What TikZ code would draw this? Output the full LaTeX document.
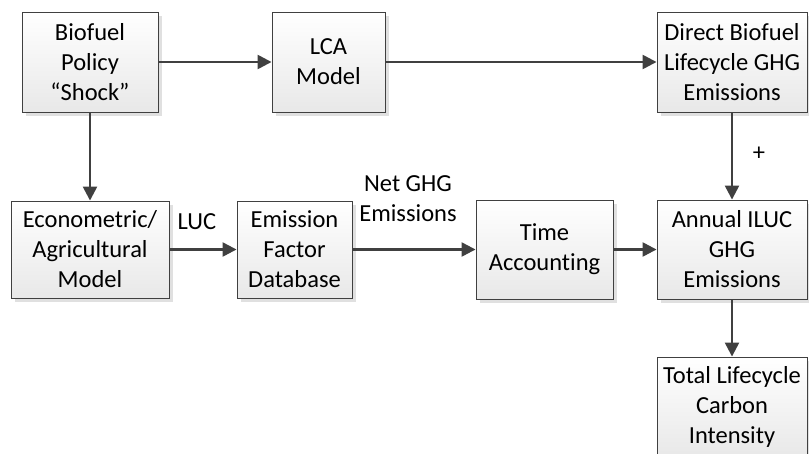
\documentclass[tikz,border=0pt]{standalone}
\usepackage{fontspec}
\setmainfont{Carlito}[Ligatures={NoCommon}]
\usetikzlibrary{arrows.meta,shadows}
\definecolor{edge}{HTML}{404040}
\tikzset{
  box/.style={draw=edge, line width=0.9pt, top color=white, bottom color=black!9,
    align=center, inner sep=2pt, minimum height=100pt,
    font=\fontsize{24.5}{30}\selectfont,
    drop shadow={shadow xshift=4pt, shadow yshift=-4pt, fill=black!12, opacity=1}},
  conn/.style={draw=edge, line width=2.4pt, -{Triangle[length=14pt,width=14pt]}},
  lbl/.style={align=center, inner sep=0pt, font=\fontsize{24.5}{30}\selectfont}
}
\begin{document}
\begin{tikzpicture}[x=1pt,y=-1pt]
\useasboundingbox (0,0) rectangle (809,453);
\clip (0,0) rectangle (809,453);
\node[box, minimum width=136pt] (pol) at (90,62) {Biofuel\\Policy\\“Shock”};
\node[box, minimum width=113pt] (lca) at (328.5,62) {LCA\\Model};
\node[box, minimum width=150pt] (dir) at (732,62) {Direct Biofuel\\Lifecycle GHG\\Emissions};
\node[box, minimum width=158pt, minimum height=97pt] (eco) at (90,249.5) {Econometric/\\Agricultural\\Model};
\node[box, minimum width=115pt, minimum height=97pt] (efd) at (294.5,249.5) {Emission\\Factor\\Database};
\node[box, minimum width=137pt, minimum height=99pt] (tim) at (544.5,249.5) {Time\\Accounting};
\node[box, minimum width=150pt, minimum height=99pt] (ann) at (732,249.5) {Annual ILUC\\GHG\\Emissions};
\node[box, minimum width=150pt] (tot) at (732,407) {Total Lifecycle\\Carbon\\Intensity};
\node[lbl] (luc) at (197,222) {LUC};
\node[lbl] (net) at (408,199) {Net GHG\\Emissions};
\node[lbl] (plus) at (759,154) {+};
\draw[conn] (pol) -- (lca);
\draw[conn] (lca) -- (dir);
\draw[conn] (pol) -- (eco);
\draw[conn] (eco) -- (efd);
\draw[conn] (efd) -- (tim);
\draw[conn] (tim) -- (ann);
\draw[conn] (dir) -- (ann);
\draw[conn] (ann) -- (tot);
\end{tikzpicture}
\end{document}
